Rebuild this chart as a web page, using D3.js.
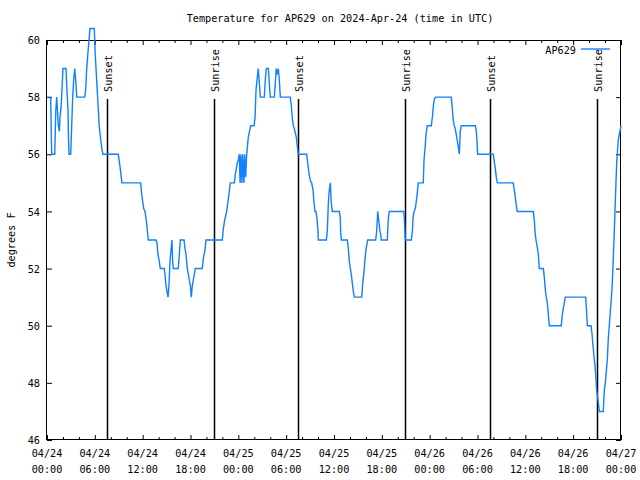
<!DOCTYPE html>
<html><head><meta charset="utf-8">
<script src="https://cdn.jsdelivr.net/npm/d3@7"></script>
<style>
body{margin:0;background:#fff}
svg{display:block}
text{font-family:"DejaVu Sans Mono",monospace;font-size:10.2px;fill:#000}
</style>
</head><body>
<svg id="c" width="640" height="480"></svg>
<script>
// hours after 2024-04-24 00:00 UTC
const hours = [0.00,0.46,0.55,0.59,0.97,1.10,1.22,1.42,1.55,1.63,1.75,1.88,2.00,2.38,2.50,2.63,2.70,2.76,2.97,3.10,3.22,3.35,3.47,3.60,3.73,4.73,4.85,4.98,5.12,5.27,5.39,5.93,6.05,6.15,6.30,6.43,6.55,6.74,6.88,7.02,8.94,9.19,9.40,11.75,11.88,12.13,12.29,12.50,12.58,12.71,13.67,13.80,13.92,14.09,14.21,14.71,14.80,14.93,15.05,15.18,15.30,15.43,15.55,15.68,15.76,15.85,16.47,16.60,16.72,17.19,17.31,17.43,17.60,17.73,17.85,17.98,18.10,18.23,18.35,18.48,18.60,19.48,19.60,19.82,19.94,21.99,22.12,22.29,22.54,22.87,22.99,23.50,23.62,23.75,23.87,24.00,24.12,24.22,24.32,24.45,24.55,24.70,24.80,24.92,25.05,25.25,25.55,25.97,26.10,26.22,26.38,26.50,26.63,26.76,27.26,27.38,27.51,27.76,27.88,28.01,28.51,28.64,28.76,28.89,29.01,29.14,29.27,30.52,30.65,30.77,30.90,31.02,31.27,31.40,31.52,32.58,32.70,32.83,32.95,33.08,33.20,33.37,33.49,33.62,33.74,33.87,33.99,34.03,35.04,35.16,35.29,35.41,35.54,35.66,35.79,36.67,36.79,36.83,36.92,37.67,37.80,37.92,38.05,38.17,38.30,38.42,38.55,39.48,39.60,39.73,39.85,39.98,40.10,40.23,41.23,41.35,41.44,41.48,41.56,41.65,41.77,41.86,41.93,42.69,42.81,42.94,44.74,44.82,44.90,44.94,45.70,45.83,45.91,46.04,46.20,46.32,46.45,46.57,47.20,47.29,47.42,47.54,47.70,48.21,48.25,48.38,48.46,48.58,48.71,50.71,50.84,50.96,51.09,51.21,51.39,51.51,51.63,51.72,51.84,51.97,53.73,53.85,53.98,54.02,55.98,56.10,56.23,56.36,56.48,58.49,58.62,58.74,58.87,58.99,61.00,61.13,61.21,61.34,61.50,61.63,61.75,62.26,62.38,62.51,62.63,62.76,62.88,63.01,64.51,64.64,64.76,64.89,65.01,67.57,67.70,67.78,68.24,68.37,68.49,68.62,68.74,68.87,68.95,69.16,69.28,69.78,69.91,70.03,70.16,70.28,70.41,70.53,70.66,70.78,70.91,71.16,71.29,71.46,71.66,72.00];
const temps = [58.0,58.0,56.5,56.0,56.0,57.5,58.0,57.0,56.8,57.3,57.6,58.25,59.0,59.0,58.25,57.6,56.5,56.0,56.0,57.0,58.0,58.6,59.0,58.6,58.0,58.0,58.25,59.0,59.5,60.0,60.4,60.4,59.5,59.0,58.25,57.6,57.0,56.5,56.2,56.0,56.0,55.5,55.0,55.0,54.6,54.1,54.0,53.6,53.35,53.0,53.0,52.9,52.5,52.24,52.0,52.0,51.8,51.4,51.2,51.0,51.4,52.24,52.65,53.0,52.24,52.0,52.0,52.5,53.0,53.0,52.7,52.5,52.0,51.8,51.6,51.4,51.0,51.4,51.6,51.8,52.0,52.0,52.35,52.65,53.0,53.0,53.4,53.7,54.0,54.7,55.0,55.0,55.3,55.5,55.7,55.8,56.0,55.0,56.0,55.0,56.0,55.0,56.0,55.2,56.0,56.6,57.0,57.0,57.3,58.25,58.7,59.0,58.5,58.0,58.0,58.6,59.0,59.0,58.5,58.0,58.0,58.5,59.0,58.8,59.0,58.6,58.0,58.0,57.7,57.26,57.0,56.9,56.6,56.27,56.0,56.0,55.7,55.4,55.2,55.04,55.0,54.75,54.3,54.0,54.0,53.76,53.3,53.0,53.0,53.3,54.3,54.75,55.0,54.3,54.0,54.0,53.76,53.3,53.0,53.0,52.7,52.24,52.0,51.8,51.48,51.2,51.0,51.0,51.48,51.8,52.2,52.6,52.8,53.0,53.0,53.3,53.76,54.0,53.82,53.6,53.3,53.2,53.0,53.0,53.76,54.0,54.0,53.76,53.3,53.0,53.0,53.3,53.76,54.0,54.1,54.35,54.65,55.0,55.0,55.8,56.2,56.7,57.0,57.0,57.1,57.4,57.7,57.9,58.0,58.0,57.6,57.2,57.0,56.9,56.6,56.4,56.2,56.0,56.8,57.0,57.0,56.8,56.25,56.0,56.0,55.75,55.5,55.2,55.0,55.0,54.74,54.5,54.2,54.0,54.0,53.7,53.3,53.0,52.75,52.5,52.0,52.0,51.7,51.25,51.0,50.8,50.4,50.0,50.0,50.4,50.6,50.8,51.0,51.0,50.4,50.0,50.0,49.7,49.3,48.9,48.6,48.1,47.75,47.3,47.0,47.0,47.75,48.0,48.4,48.8,49.56,50.0,50.5,50.9,51.5,53.3,54.4,55.7,56.5,57.0];
const yTicks = [46,48,50,52,54,56,58,60];
const sunLabels = ["Sunset","Sunrise","Sunset","Sunrise","Sunset","Sunrise"];
const sunHours = [7.56,20.95,31.52,44.94,55.61,69.03];
const titleText = "Temperature for AP629 on 2024-Apr-24 (time in UTC)";
const yLabel = "degrees F";
const seriesName = "AP629";

const t0 = Date.UTC(2024,3,24,0,0);
const toDate = h => new Date(t0 + h*3600000);
const L = 47, R = 621, T = 40, B = 440;
const svg = d3.select("#c");
const x = d3.scaleUtc().domain([toDate(0), toDate(72)]).range([L, R]);
const y = d3.scaleLinear().domain([46, 60]).range([B, T]);

const majors = d3.utcHour.every(6).range(toDate(0), toDate(72.01));
const minors = d3.utcHour.every(2).range(toDate(0), toDate(72.01)).filter(d => d.getUTCHours() % 6 !== 0);

function styleAxis(g){ g.select(".domain").remove(); g.selectAll("line").attr("stroke","#000"); }

svg.append("g").attr("transform",`translate(0,${B})`)
  .call(d3.axisBottom(x).tickValues(majors).tickSizeInner(-5).tickSizeOuter(0).tickFormat(""))
  .call(styleAxis);
svg.append("g").attr("transform",`translate(0,${B})`)
  .call(d3.axisBottom(x).tickValues(minors).tickSizeInner(-3).tickSizeOuter(0).tickFormat(""))
  .call(styleAxis);
svg.append("g").attr("transform",`translate(0,${T})`)
  .call(d3.axisTop(x).tickValues(majors).tickSizeInner(-5).tickSizeOuter(0).tickFormat(""))
  .call(styleAxis);
svg.append("g").attr("transform",`translate(0,${T})`)
  .call(d3.axisTop(x).tickValues(minors).tickSizeInner(-3).tickSizeOuter(0).tickFormat(""))
  .call(styleAxis);

// x labels (two lines)
const fmt1 = d3.utcFormat("%m/%d"), fmt2 = d3.utcFormat("%H:%M");
const xl = svg.append("g").selectAll("text").data(majors).join("text")
  .attr("text-anchor","middle").attr("x", d => x(d));
xl.append("tspan").attr("x", d => x(d)).attr("y", 457).text(fmt1);
xl.append("tspan").attr("x", d => x(d)).attr("y", 473).text(fmt2);

// y axes
svg.append("g").attr("transform",`translate(${L},0)`)
  .call(d3.axisLeft(y).tickValues(yTicks).tickSizeInner(-5).tickSizeOuter(0).tickPadding(7).tickFormat(d3.format("d")))
  .call(styleAxis)
  .call(g => g.selectAll("text").attr("font-family",null).attr("font-size",null).attr("dy","0.35em"));
svg.append("g").attr("transform",`translate(${R},0)`)
  .call(d3.axisRight(y).tickValues(yTicks).tickSizeInner(-5).tickSizeOuter(0).tickFormat(""))
  .call(styleAxis);

// frame
svg.append("rect").attr("x", L - 0.5).attr("y", T + 0.5).attr("width", R - L).attr("height", B - T - 1)
  .attr("fill","none").attr("stroke","#000").attr("stroke-width",1);

// title & y label
svg.append("text").attr("x", 340).attr("y", 22).attr("text-anchor","middle").text(titleText);
svg.append("text").attr("transform","translate(15,240) rotate(-90)").attr("text-anchor","middle").text(yLabel);

// sunrise/sunset markers
const sun = svg.append("g");
sunHours.forEach((h,i) => {
  const sx = Math.round(x(toDate(h))) + 0.5;
  sun.append("line").attr("x1",sx).attr("x2",sx).attr("y1",99).attr("y2",B)
    .attr("stroke","#000").attr("stroke-width",1.5);
  sun.append("text").attr("transform",`translate(${sx+4.5},92) rotate(-90)`).attr("text-anchor","start").text(sunLabels[i]);
});

// data line
const pts = hours.map((h,i) => [toDate(h), temps[i]]);
svg.append("path").datum(pts)
  .attr("fill","none").attr("stroke","#0f80ff").attr("stroke-width",1.4).attr("stroke-linejoin","miter")
  .attr("d", d3.line().x(d => x(d[0])).y(d => y(d[1])));

// legend
svg.append("text").attr("x", 576).attr("y", 54).attr("text-anchor","end").text(seriesName);
svg.append("line").attr("x1",581).attr("x2",610).attr("y1",49).attr("y2",49).attr("stroke","#0f80ff").attr("stroke-width",1.4);
</script>
</body></html>
